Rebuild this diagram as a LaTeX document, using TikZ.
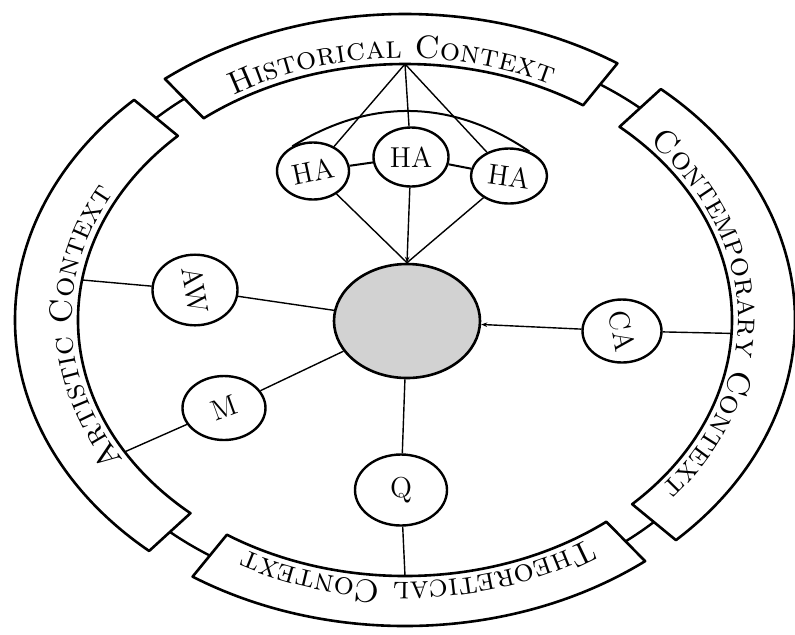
\documentclass[tikz,border=0pt]{standalone}
\usepackage{graphicx}
\usetikzlibrary{shapes.geometric, arrows.meta, decorations.text}
\newcommand{\bandfont}{\fontsize{16}{18}\selectfont\scshape}

\begin{document}
\begin{tikzpicture}[
    x=0.5pt, y=0.5pt,
    every node/.style={font=\Large},
    band/.style={draw=black, line width=1.3pt, line join=round, fill=white},
    joint/.style={draw=black, line width=1.2pt},
    link/.style={draw=black, line width=0.7pt},
    sat/.style={draw, ellipse, line width=1.2pt, fill=white, minimum width=40pt, minimum height=30pt, inner sep=0pt},
    core/.style={draw, ellipse, line width=1.3pt, fill=gray!35, minimum width=73pt, minimum height=57pt, inner sep=0pt},
    bandtext/.style={decorate, decoration={text along path, text align=center, text={#1}}}
]
    \useasboundingbox (-405,-314) rectangle (390,320);

    % Context bands
    \foreach \a/\b in {57/128, -46/49, -123/-52, 134/229}
        \draw[band] (\b:390 and 306) arc[start angle=\b, end angle=\a, x radius=390, y radius=306]
            -- (\a:327 and 256) arc[start angle=\a, end angle=\b, x radius=327, y radius=256] -- cycle;
    \foreach \a/\b in {49/57, 128/134, 229/237, -52/-46}
        \draw[joint] (\a:358 and 281) arc[start angle=\a, end angle=\b, x radius=358, y radius=281];

    % Band labels
    \path[bandtext={|\bandfont|Historical Context}] (128:333 and 262) arc[start angle=128, end angle=57, x radius=333, y radius=262];
    \path[bandtext={|\bandfont|Contemporary Context}] (49:333 and 262) arc[start angle=49, end angle=-46, x radius=333, y radius=262];
    \path[bandtext={|\bandfont|Theoretical Context}] (-52:333 and 262) arc[start angle=-52, end angle=-123, x radius=333, y radius=262];
    \path[bandtext={|\bandfont|Artistic Context}] (229:333 and 262) arc[start angle=229, end angle=134, x radius=333, y radius=262];

    % Ends on the inner edge
    \coordinate (apex) at (90:327 and 256);
    \coordinate (awend) at (171:327 and 256);
    \coordinate (mend) at (211:327 and 256);
    \coordinate (caend) at (-3:327 and 256);
    \coordinate (qend) at (-90:327 and 256);

    % Centre and satellites
    \node[core] (cen) at (2,-1) {};
    \node[sat, minimum width=36pt, minimum height=28.5pt] (hal) at (-92,149) {\rotatebox{12}{HA}};
    \node[sat, minimum width=37.5pt, minimum height=29.5pt] (ham) at (6,163) {HA};
    \node[sat, minimum width=38pt, minimum height=27.5pt] (har) at (104,144) {\rotatebox{-8}{HA}};
    \node[sat, minimum width=42.5pt, minimum height=32.5pt] (aw) at (-210,30) {\rotatebox{-80}{AW}};
    \node[sat, minimum width=41.5pt, minimum height=32pt] (m) at (-181,-88) {\rotatebox{20}{M}};
    \node[sat, minimum width=39.5pt, minimum height=28.5pt] (ca) at (217,-11) {\rotatebox{-80}{CA}};
    \node[sat, minimum width=46pt, minimum height=35.5pt] (q) at (-4,-170) {Q};

    % Historical links
    \draw[link] (apex) -- (hal);
    \draw[link] (apex) -- (ham);
    \draw[link] (apex) -- (har);
    \draw[link] (hal) -- (cen.north);
    \draw[link, -{Stealth[length=3pt]}] (ham) -- (cen.north);
    \draw[link] (har) -- (cen.north);
    \draw[link, line width=1pt] (hal.130) to[bend left=33] (har.50);
    \draw[link, line width=1pt] (hal) -- (ham) -- (har);

    % Other links
    \draw[link] (awend) -- (aw);
    \draw[link] (aw) -- (cen);
    \draw[link] (mend) -- (m);
    \draw[link] (m) -- (cen);
    \draw[link, -{Stealth[length=3pt]}] (ca) -- (cen);
    \draw[link] (ca) -- (caend);
    \draw[link] (cen) -- (q);
    \draw[link] (q) -- (qend);
\end{tikzpicture}
\end{document}
